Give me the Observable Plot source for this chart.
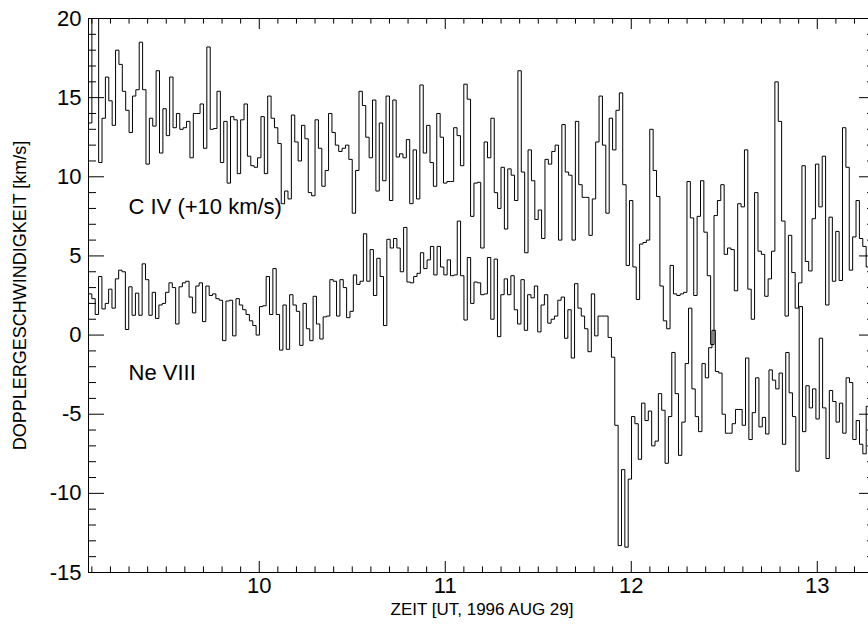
<!DOCTYPE html>
<html><head><meta charset="utf-8">
<script src="https://cdn.jsdelivr.net/npm/d3@7"></script>
<script src="https://cdn.jsdelivr.net/npm/@observablehq/plot@0.6"></script>
<style>html,body{margin:0;padding:0;background:#fff;overflow:hidden}</style>
</head><body><div id="chart"></div>
<script>
// visible time axis (hours UT) and time span covered by the samples
const axisStart = 9.082, axisEnd = 13.313;
const dataStart = 9.082, dataEnd = 13.281;

// C IV Doppler velocity, shifted by +10 km/s as in the plot
const civPlus10 = [
13.4,21,21,10.9,13.7,16.3,14.8,13.25,18.0,17.1,15.4,14.2,12.8,15.1,15.5,18.5,15.5,10.8,13.7,13.2,16.7,11.5,14.3,12.6,16.3,13.1,14.0,13.0,13.1,13.5,11.2,14.0,14.0,14.6,11.8,18.2,13.0,13.05,
15.4,10.9,13.5,9.6,13.8,13.6,10.2,13.6,14.6,11.3,10.7,10.6,11.2,13.8,10.2,15.1,13.7,13.1,12.1,8.3,9.1,8.6,13.9,12.2,11.0,13.25,12.4,9.0,8.8,13.6,11.8,9.4,10.4,14.0,12.8,12.0,11.6,11.8,12.0,
11.1,7.7,10.4,15.4,14.5,12.5,11.2,14.85,9.1,13.4,9.75,15.1,8.5,14.85,11.25,11.45,11.2,12.35,8.3,11.7,8.6,15.8,11.5,13.25,10.9,9.4,14.0,12.5,9.6,9.7,9.7,13.1,12.6,10.7,15.85,14.9,7.5,9.6,
9.65,5.5,12.2,11.2,13.7,9.0,8.0,10.6,6.7,10.5,10.1,8.5,16.7,10.3,5.2,11.7,9.75,7.3,7.9,6.1,11.1,10.8,11.6,12.0,6.0,13.3,10.3,10.1,6.0,13.5,9.5,8.7,8.7,6.3,8.6,12.2,15.1,12.0,7.7,
13.7,11.7,14.2,15.3,9.5,4.4,8.5,4.3,2.25,5.75,5.85,6.0,13.0,10.4,8.75,3.1,0.9,0.4,4.4,2.6,2.5,2.6,2.7,9.7,7.4,2.5,7.5,9.75,6.5,3.75,-0.6,7.55,8.5,9.5,5.1,5.5,5.4,
2.8,8.3,8.1,11.7,2.9,1.0,9.0,5.3,5.1,2.45,3.55,5.3,16.0,13.5,7.2,1.2,6.3,3.95,1.7,3.3,10.7,4.65,4.05,7.35,10.8,8.1,11.3,1.9,7.45,3.4,6.55,3.45,13.1,10.6,4.1,6.2,8.5,6.1,5.6,4.3
];

// Ne VIII Doppler velocity
const neVIII = [
2.6,2.3,1.3,3.7,1.65,2.0,2.9,1.7,3.55,4.1,4.0,0.35,3.05,1.25,2.65,1.25,4.5,3.5,1.25,2.7,1.05,1.9,2.0,2.7,3.3,3.0,0.7,3.05,3.3,3.4,2.4,1.4,3.1,3.3,0.85,3.1,2.5,2.6,
2.3,2.2,-0.35,2.15,2.2,-0.05,2.3,1.9,1.6,1.3,0.9,0.6,0.0,1.8,1.85,3.7,1.3,4.2,1.3,-0.95,1.9,-0.9,2.55,1.9,1.5,-0.65,2.0,0.4,-0.35,2.45,0.7,-0.25,1.15,1.2,3.5,3.4,1.2,3.5,3.0,
1.1,1.5,3.8,3.2,3.4,6.4,3.4,5.4,2.5,4.85,3.7,0.6,6.05,5.5,6.1,5.5,4.0,6.8,3.35,3.3,3.7,3.9,5.2,4.2,4.75,5.6,3.8,5.6,4.3,3.8,4.75,3.75,3.8,7.2,3.75,0.95,4.9,2.0,3.35,
3.3,2.55,2.6,4.9,1.0,4.8,-0.1,2.55,3.55,2.55,3.75,1.6,0.7,3.5,0.3,2.55,2.35,3.1,0.2,1.9,2.55,0.75,1.0,1.2,2.2,2.4,-0.2,1.6,-1.45,3.25,1.7,1.2,0.4,-1.05,2.6,-0.05,1.2,1.2,1.2,
-0.15,-1.4,-5.7,-13.3,-8.5,-13.4,-9.1,-5.15,-5.6,-7.85,-4.3,-5.4,-4.8,-7.0,-6.7,-3.7,-4.75,-8.1,-5.15,-1.1,-3.7,-7.6,-5.5,-1.8,1.7,-3.4,-5.15,-6.1,-1.8,-2.7,-0.8,0.3,-2.3,-2.4,-5.0,-6.2,-6.2,-5.6,-4.7,
-4.7,-5.7,-1.45,-6.6,-4.9,-2.7,-5.8,-5.2,-6.25,-2.2,-2.85,-3.4,-2.4,-6.9,-1.1,-3.65,-5.15,-8.6,1.8,-6.1,-3.2,-4.6,-3.4,-5.3,-0.2,-4.6,-7.8,-3.5,-4.2,-5.5,-4.3,-6.2,-2.7,-3.0,-6.6,-5.4,-6.9,-7.5,-4.5
];

const xMajor = [10, 11, 12, 13];
const yMajor = [-15, -10, -5, 0, 5, 10, 15, 20];
const seriesLabels = [
  {t: 9.297, v: 8.08, text: "C IV (+10 km/s)"},
  {t: 9.297, v: -2.41, text: "Ne VIII"}
];
const xTitle = "ZEIT [UT, 1996 AUG 29]";
const yTitle = "DOPPLERGESCHWINDIGKEIT [km/s]";

function toSteps(values) {
  const dt = (dataEnd - dataStart) / values.length;
  const pts = values.map((v, i) => ({t: dataStart + i * dt, v}));
  pts.push({t: dataEnd, v: values[values.length - 1]});
  return pts;
}

const W = 868, H = 633, mL = 88, mR = -7, mT = 18, mB = 61;
const plotW = W - mL - mR, plotH = H - mT - mB;
const xMinor = d3.range(91, 134).map(d => d / 10).filter(d => !xMajor.includes(d));
const yMinor = d3.range(-15, 21).filter(d => !yMajor.includes(d));

const chart = Plot.plot({
  width: W, height: H,
  marginLeft: mL, marginRight: mR, marginTop: mT, marginBottom: mB,
  style: {fontFamily: "'Liberation Sans', Arial, Helvetica, sans-serif", fontSize: "22px", color: "black", background: "white"},
  x: {domain: [axisStart, axisEnd], ticks: xMajor, tickSize: 0, tickPadding: 5, tickFormat: d => String(d), label: null},
  y: {domain: [-15, 20], ticks: yMajor, tickSize: 0, tickPadding: 7, tickFormat: d => String(d), label: null},
  marks: [
    Plot.frame({stroke: "black"}),
    Plot.tickY(yMajor, {y: d => d, insetRight: plotW - 16, stroke: "black"}),
    Plot.tickY(yMinor, {y: d => d, insetRight: plotW - 8, stroke: "black"}),
    Plot.tickY(yMajor, {y: d => d, insetLeft: plotW - 16, stroke: "black"}),
    Plot.tickY(yMinor, {y: d => d, insetLeft: plotW - 8, stroke: "black"}),
    Plot.tickX(xMajor, {x: d => d, insetTop: plotH - 11, stroke: "black"}),
    Plot.tickX(xMajor, {x: d => d, insetBottom: plotH - 11, stroke: "black"}),
    Plot.tickX(xMinor, {x: d => d, insetTop: plotH - 5.6, stroke: "black"}),
    Plot.tickX(xMinor, {x: d => d, insetBottom: plotH - 5.6, stroke: "black"}),
    Plot.line(toSteps(civPlus10), {x: "t", y: "v", curve: "step-after", stroke: "black", strokeWidth: 1, clip: true}),
    Plot.line(toSteps(neVIII), {x: "t", y: "v", curve: "step-after", stroke: "black", strokeWidth: 1, clip: true}),
    Plot.text(seriesLabels, {x: "t", y: "v", text: "text", textAnchor: "start", lineAnchor: "middle", fill: "black"}),
    Plot.text([xTitle], {frameAnchor: "bottom", dy: 37, text: d => d, textAnchor: "middle", lineAnchor: "middle", fontSize: 17, fill: "black"}),
    Plot.text([yTitle], {frameAnchor: "left", dx: -68, rotate: -90, text: d => d, textAnchor: "middle", lineAnchor: "middle", fontSize: 18, fill: "black"})
  ]
});
document.getElementById("chart").appendChild(chart);
</script>
</body></html>
